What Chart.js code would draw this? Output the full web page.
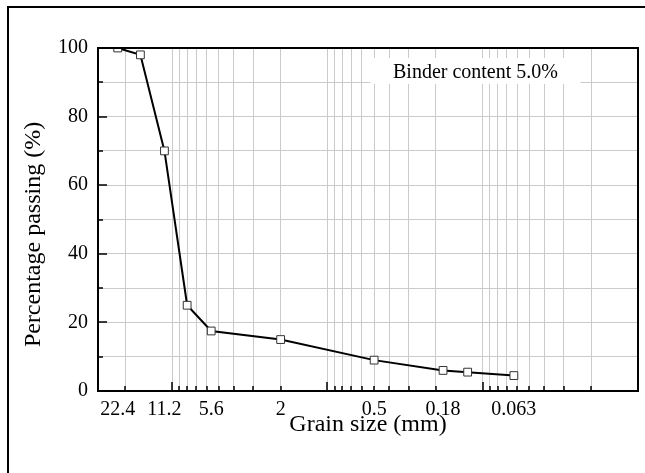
<!DOCTYPE html>
<html>
<head>
<meta charset="utf-8">
<script src="https://cdn.jsdelivr.net/npm/chart.js@4"></script>
<style>
  html, body { margin: 0; padding: 0; background: #fff; }
  canvas { display: block; }
</style>
</head>
<body>
<canvas id="c" width="645" height="473"></canvas>
<script>
// ---- Data ----
const sieveSizesMm = [22.4, 16, 11.2, 8, 5.6, 2, 0.5, 0.18, 0.125, 0.063];
const passingPct   = [100, 98, 70, 25, 17.5, 15, 9, 6, 5.5, 4.5];

// x tick labels (sieve sizes shown under the axis)
const xTickLabels = [22.4, 11.2, 5.6, 2, 0.5, 0.18, 0.063];
// log-grid positions (gridlines + inward tick marks)
const xGridValues = [30, 20, 10, 9, 8, 7, 6, 5, 4, 3, 2, 1, 0.9, 0.8, 0.7, 0.6, 0.5, 0.4, 0.3, 0.2,
                     0.1, 0.09, 0.08, 0.07, 0.06, 0.05, 0.04, 0.03, 0.02, 0.01];
const xDecades = [10, 1, 0.1];
const yTickValues = [0, 10, 20, 30, 40, 50, 60, 70, 80, 90, 100];
const yLabelValues = [0, 20, 40, 60, 80, 100];

const annotationText = 'Binder content 5.0%';
const xTitle = 'Grain size (mm)';
const yTitle = 'Percentage passing (%)';

const FONT = '"Liberation Serif", "Times New Roman", serif';
const GRID = '#cbcbcb';

const near = (a, b) => Math.abs(a - b) < 1e-6 * Math.max(1, Math.abs(b));
const inList = (v, arr) => arr.some(a => near(v, a));

const allXTicks = Array.from(new Set([...xGridValues, ...xTickLabels])).sort((a, b) => b - a);

const decorPlugin = {
  id: 'decor',
  beforeDraw(chart) {
    const ctx = chart.ctx;
    ctx.save();
    ctx.fillStyle = '#fff';
    ctx.fillRect(0, 0, chart.width, chart.height);
    // outer figure frame (top + left edges visible)
    ctx.strokeStyle = '#000';
    ctx.lineWidth = 2;
    ctx.beginPath();
    ctx.moveTo(chart.width, 7);
    ctx.lineTo(8, 7);
    ctx.lineTo(8, chart.height);
    ctx.stroke();
    ctx.restore();
  },
  beforeDatasetsDraw(chart) {
    const ctx = chart.ctx;
    const a = chart.chartArea;
    // annotation box (white background covering gridlines)
    const cx = a.left + (a.right - a.left) * 0.699;
    const bw = 210, bh = 26;
    const by = a.top + 10;
    ctx.save();
    ctx.fillStyle = '#fff';
    ctx.fillRect(cx - bw / 2, by, bw, bh);
    ctx.fillStyle = '#000';
    ctx.font = '20px ' + FONT;
    ctx.textAlign = 'center';
    ctx.textBaseline = 'middle';
    ctx.fillText(annotationText, cx, by + bh / 2 + 2);
    ctx.restore();
  },
  afterDraw(chart) {
    const ctx = chart.ctx;
    const a = chart.chartArea;
    const xs = chart.scales.x, ys = chart.scales.y;
    ctx.save();
    ctx.strokeStyle = '#000';
    // inward tick marks
    ctx.lineWidth = 1.5;
    ctx.beginPath();
    xGridValues.forEach(v => {
      const px = Math.round(xs.getPixelForValue(v));
      const len = inList(v, xDecades) ? 9 : 5;
      ctx.moveTo(px, a.bottom);
      ctx.lineTo(px, a.bottom - len);
    });
    yTickValues.forEach(v => {
      const py = Math.round(ys.getPixelForValue(v));
      const len = inList(v, yLabelValues) ? 9 : 5;
      ctx.moveTo(a.left, py);
      ctx.lineTo(a.left + len, py);
    });
    ctx.stroke();
    // plot frame
    ctx.lineWidth = 2;
    ctx.strokeRect(a.left, a.top, a.right - a.left, a.bottom - a.top);
    // axis titles
    ctx.fillStyle = '#000';
    ctx.font = '24px ' + FONT;
    ctx.textAlign = 'center';
    ctx.textBaseline = 'alphabetic';
    ctx.fillText(xTitle, (a.left + a.right) / 2, a.bottom + 40);
    ctx.translate(34, (a.top + a.bottom) / 2 + 15);
    ctx.rotate(-Math.PI / 2);
    ctx.textBaseline = 'middle';
    ctx.fillText(yTitle, 0, 0);
    ctx.restore();
  }
};

new Chart(document.getElementById('c'), {
  type: 'line',
  data: {
    datasets: [{
      data: sieveSizesMm.map((s, i) => ({ x: s, y: passingPct[i] })),
      borderColor: '#000',
      borderWidth: 2,
      tension: 0,
      pointStyle: 'rect',
      pointRadius: 5.5,
      pointBackgroundColor: '#fff',
      pointBorderColor: '#333',
      pointBorderWidth: 1,
      fill: false
    }]
  },
  options: {
    responsive: false,
    devicePixelRatio: 1,
    animation: false,
    events: [],
    layout: { padding: { top: 48, right: 4, left: 0, bottom: 0 } },
    plugins: { legend: { display: false }, tooltip: { enabled: false }, title: { display: false } },
    scales: {
      x: {
        type: 'logarithmic',
        reverse: true,
        min: 0.01,
        max: 30,
        afterFit: s => { s.height = 82; },
        afterBuildTicks: s => { s.ticks = allXTicks.map(v => ({ value: v })); },
        border: { display: true, color: '#000', width: 2 },
        grid: {
          drawTicks: false,
          lineWidth: 1,
          color: ctx => (ctx.tick && !inList(ctx.tick.value, xGridValues)) ? 'rgba(0,0,0,0)' : GRID
        },
        ticks: {
          autoSkip: false,
          maxRotation: 0,
          minRotation: 0,
          padding: 7,
          color: '#000',
          font: { family: FONT, size: 20 },
          callback: v => {
            const m = xTickLabels.find(t => near(v, t));
            return m === undefined ? '' : String(m);
          }
        }
      },
      y: {
        min: 0,
        max: 100,
        afterFit: s => { s.width = 98; },
        afterBuildTicks: s => { s.ticks = yTickValues.map(v => ({ value: v })); },
        border: { display: true, color: '#000', width: 2 },
        grid: { drawTicks: false, color: GRID, lineWidth: 1 },
        ticks: {
          padding: 10,
          color: '#000',
          font: { family: FONT, size: 20 },
          callback: v => inList(v, yLabelValues) ? String(v) : ''
        }
      }
    }
  },
  plugins: [decorPlugin]
});
</script>
</body>
</html>
